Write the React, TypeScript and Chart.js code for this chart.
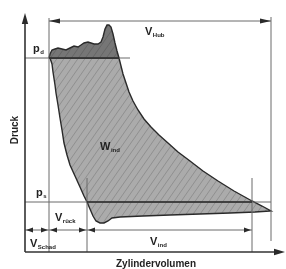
import React, { useEffect, useRef } from "react";
import { Chart, registerables } from "chart.js";
Chart.register(...registerables);

// ---- values (volume V, pressure p; arbitrary schematic units) ----
const V_SCHAD = 24; // end of clearance volume
const V_MAX = 246; // end of stroke
const V_RUECK = 62; // end of re-expansion
const V_IND_END = 227; // end of indicated suction volume
const P_D = 194; // discharge pressure
const P_S = 50; // suction pressure
const AXIS_V_MAX = 260;
const AXIS_P_MAX = 239;

// discharge with valve oscillations (above p_d)
const dischargeV = [24, 25, 27, 30, 33, 37, 41, 45, 49, 53, 56, 59, 63, 66, 69, 73, 76, 78, 80, 82, 84, 86, 88, 90, 92, 94];
const dischargeP = [194, 198, 202, 203, 204, 203, 202, 204, 206, 205, 207, 209, 210, 209, 208, 208, 210, 215, 223, 227, 227, 225, 218, 209, 201, 194];

// cycle: top (p_d) -> compression (reverse drawn) -> suction -> re-expansion
const cycleV = [24, 94, 96, 98, 101, 104, 108, 113, 119, 126, 134, 143, 153, 165, 178, 193, 209, 227, 237, 246,
  230, 205, 175, 145, 118, 95, 87, 83, 79, 75, 71, 68, 65, 62, 59, 55, 50, 45, 42, 39, 37, 35, 33, 31, 30, 28, 27, 25, 24];
const cycleP = [194, 194, 186, 178, 169, 160, 151, 142, 133, 125, 117, 109, 100, 91, 81, 71, 61, 51, 46, 41,
  40, 39, 38, 37, 36, 35, 34, 31, 29, 29, 31, 36, 43, 50, 56, 65, 76, 87, 97, 109, 122, 134, 147, 159, 167, 180, 188, 194, 194];

// guide lines: [v1, p1, v2, p2]
const guideLines: number[][] = [
  [V_SCHAD, 0, V_SCHAD, 234],
  [V_MAX, 11, V_MAX, 235],
  [V_SCHAD, 231, V_MAX, 231],
  [0, P_D, 105, P_D],
  [0, P_S, V_MAX, P_S],
  [V_RUECK, 0, V_RUECK, 74],
  [V_IND_END, 0, V_IND_END, 74],
  [0, 22, V_IND_END, 22],
];
const darkLines: number[][] = [
  [V_RUECK, P_S, V_IND_END, P_S],
  [V_SCHAD, P_D, 94, P_D],
];
const axisLines: number[][] = [
  [0, 0, 0, AXIS_P_MAX - 4],
  [0, 0, AXIS_V_MAX - 4, 0],
];

// arrow heads: [tipV, tipP, direction, length, half-width]
const arrowHeads: [number, number, string, number, number][] = [
  [0, AXIS_P_MAX, "up", 11, 3.2],
  [AXIS_V_MAX, 0, "right", 11, 3.2],
  [V_SCHAD, 231, "left", 11, 2.6],
  [V_MAX, 231, "right", 11, 2.6],
  [1, 22, "left", 7, 2.4],
  [V_SCHAD - 1, 22, "right", 7, 2.4],
  [V_SCHAD + 1, 22, "left", 7, 2.4],
  [V_RUECK - 1, 22, "right", 7, 2.4],
  [V_RUECK + 1, 22, "left", 7, 2.4],
  [V_IND_END - 1, 22, "right", 7, 2.4],
];

// labels: [main, subscript, v, p]
const labels: [string, string, number, number][] = [
  ["V", "Hub", 120, 217],
  ["p", "d", 8, 200],
  ["p", "s", 11, 56],
  ["W", "ind", 75, 102],
  ["V", "rück", 30, 31],
  ["V", "Schad", 5, 5],
  ["V", "ind", 125, 7],
];
const X_TITLE = "Zylindervolumen";
const Y_TITLE = "Druck";

const zip = (a: number[], b: number[]) => a.map((v, i) => ({ x: v, y: b[i] }));
const seg = (s: number[]) => [{ x: s[0], y: s[1] }, { x: s[2], y: s[3] }];

function hatch(bg: string, line: string) {
  const c = document.createElement("canvas");
  c.width = 7;
  c.height = 10;
  const g = c.getContext("2d")!;
  g.fillStyle = bg;
  g.fillRect(0, 0, 7, 10);
  g.strokeStyle = line;
  g.lineWidth = 0.9;
  g.beginPath();
  for (const o of [-7, 0, 7]) {
    g.moveTo(o, 10);
    g.lineTo(o + 7, 0);
  }
  g.stroke();
  return g.createPattern(c, "repeat")!;
}

const FONT = '"Liberation Sans", Arial, sans-serif';

const annotPlugin = {
  id: "annot",
  afterDatasetsDraw(chart: any) {
    const { ctx } = chart;
    const sx = chart.scales.x;
    const sy = chart.scales.y;
    ctx.save();
    ctx.fillStyle = "#2a2a2a";
    for (const [v, p, dir, len, half] of arrowHeads) {
      const tx = sx.getPixelForValue(v);
      const ty = sy.getPixelForValue(p);
      ctx.beginPath();
      ctx.moveTo(tx, ty);
      if (dir === "up") {
        ctx.lineTo(tx - half, ty + len);
        ctx.lineTo(tx + half, ty + len);
      } else if (dir === "right") {
        ctx.lineTo(tx - len, ty - half);
        ctx.lineTo(tx - len, ty + half);
      } else {
        ctx.lineTo(tx + len, ty - half);
        ctx.lineTo(tx + len, ty + half);
      }
      ctx.closePath();
      ctx.fill();
    }
    ctx.fillStyle = "#222";
    ctx.textBaseline = "alphabetic";
    ctx.textAlign = "left";
    for (const [m, s, v, p] of labels) {
      const x = sx.getPixelForValue(v);
      const y = sy.getPixelForValue(p);
      ctx.font = "bold 11px " + FONT;
      ctx.fillText(m, x, y);
      const w = ctx.measureText(m).width;
      ctx.font = "bold 6px " + FONT;
      ctx.fillText(s, x + w + 0.5, y + 2);
    }
    ctx.font = "bold 10px " + FONT;
    ctx.textAlign = "center";
    ctx.fillText(X_TITLE, sx.getPixelForValue(131), sy.getPixelForValue(-15));
    ctx.translate(sx.getPixelForValue(-7), sy.getPixelForValue(122));
    ctx.rotate(-Math.PI / 2);
    ctx.fillText(Y_TITLE, 0, 0);
    ctx.restore();
  },
};

export default function App() {
  const ref = useRef<HTMLCanvasElement>(null);
  useEffect(() => {
    const lineDs = (s: number[], color: string, width: number, order: number) => ({
      data: seg(s),
      showLine: true,
      borderColor: color,
      borderWidth: width,
      pointRadius: 0,
      fill: false,
      order,
    });
    const chart = new Chart(ref.current!, {
      type: "scatter",
      data: {
        datasets: [
          ...darkLines.map((s) => lineDs(s, "#2a2a2a", 1.4, 0)),
          ...axisLines.map((s) => lineDs(s, "#333", 1.6, 1)),
          ...guideLines.map((s) => lineDs(s, "#6b6b6b", 1, 2)),
          {
            data: zip(dischargeV, dischargeP),
            showLine: true,
            borderColor: "#2a2a2a",
            borderWidth: 1.4,
            backgroundColor: hatch("#767676", "#646464"),
            fill: { value: P_D },
            pointRadius: 0,
            order: 5,
          } as any,
          {
            data: zip(cycleV, cycleP),
            showLine: true,
            borderColor: "#2a2a2a",
            borderWidth: 1.4,
            backgroundColor: hatch("#ababab", "#8c8c8c"),
            fill: "shape",
            pointRadius: 0,
            order: 6,
          } as any,
        ],
      },
      options: {
        animation: false,
        responsive: false,
        layout: { padding: 0 },
        plugins: { legend: { display: false }, tooltip: { enabled: false } },
        scales: {
          x: { type: "linear", min: -25, max: 261, display: false },
          y: { type: "linear", min: -17, max: 252, display: false },
        },
      },
      plugins: [annotPlugin],
    });
    return () => chart.destroy();
  }, []);
  return (
    <div style={{ position: "absolute", left: 0, top: 0, width: 286, height: 269, background: "#fff" }}>
      <canvas ref={ref} width={286} height={269} />
    </div>
  );
}
